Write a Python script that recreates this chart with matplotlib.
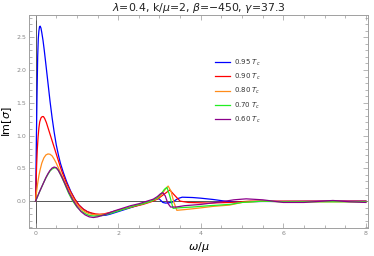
import numpy as np
import matplotlib
matplotlib.use("Agg")
import matplotlib.pyplot as plt
from matplotlib.ticker import MultipleLocator

# 0.95 Tc
x_95 = [0, 0.01, 0.02, 0.035, 0.05, 0.065, 0.08, 0.095, 0.11, 0.13, 0.15, 0.18, 0.21, 0.25, 0.3, 0.35, 0.4,
        0.45, 0.5, 0.55, 0.6, 0.67, 0.75, 0.85, 0.95, 1.05, 1.15, 1.25, 1.4, 1.5, 1.6, 1.7, 1.8, 2.0, 2.2,
        2.4, 2.6, 2.8, 2.95, 3.0, 3.08, 3.15, 3.3, 3.45, 3.55, 3.8, 4.0, 4.3, 4.7, 5.0, 5.5, 6.0, 7.0, 8.0]
y_95 = [0, 0.5, 1.0, 1.65, 2.2, 2.48, 2.6, 2.66, 2.67, 2.64, 2.57, 2.45, 2.3, 2.08, 1.8, 1.52, 1.27,
        1.05, 0.86, 0.71, 0.58, 0.44, 0.3, 0.15, 0.03, -0.06, -0.12, -0.16, -0.2, -0.215, -0.22, -0.215, -0.2, -0.16, -0.12,
        -0.08, -0.04, 0.0, 0.04, 0.03, -0.02, -0.03, -0.02, 0.04, 0.06, 0.055, 0.045, 0.025, -0.01, -0.01, -0.005, -0.005, 0.0, 0.0]

# 0.90 Tc
x_90 = [0, 0.01, 0.025, 0.04, 0.06, 0.08, 0.1, 0.13, 0.16, 0.19, 0.22, 0.26, 0.3, 0.35, 0.4, 0.45, 0.5,
        0.55, 0.6, 0.65, 0.7, 0.75, 0.85, 0.95, 1.05, 1.15, 1.25, 1.35, 1.45, 1.55, 1.65, 1.75, 2.0, 2.2,
        2.4, 2.6, 2.8, 2.95, 3.1, 3.25, 3.35, 3.5, 3.7, 4.2, 4.7, 5.2, 6.0, 7.0, 8.0]
y_90 = [0, 0.25, 0.55, 0.78, 0.98, 1.12, 1.21, 1.27, 1.29, 1.29, 1.26, 1.2, 1.12, 1.02, 0.92, 0.82, 0.72,
        0.62, 0.52, 0.43, 0.35, 0.27, 0.14, 0.03, -0.06, -0.12, -0.16, -0.18, -0.195, -0.2, -0.195, -0.18, -0.14, -0.11,
        -0.08, -0.05, -0.01, 0.03, 0.1, 0.17, 0.1, 0.0, -0.02, -0.03, -0.02, 0.0, 0.0, 0.0, 0.0]

# 0.80 Tc
x_80 = [0, 0.025, 0.05, 0.08, 0.11, 0.15, 0.2, 0.25, 0.3, 0.35, 0.4, 0.45, 0.5, 0.55, 0.6, 0.7, 0.8, 0.9,
        1.0, 1.1, 1.2, 1.3, 1.4, 1.5, 1.6, 1.7, 1.8, 2.0, 2.2, 2.4, 2.6, 2.8, 2.95, 3.05, 3.14, 3.21,
        3.28, 3.35, 3.42, 3.6, 3.9, 4.3, 4.7, 5.0, 5.5, 6.0, 7.0, 8.0]
y_80 = [0, 0.15, 0.27, 0.39, 0.48, 0.58, 0.66, 0.705, 0.72, 0.715, 0.69, 0.64, 0.58, 0.51, 0.44, 0.3, 0.17, 0.05,
        -0.05, -0.12, -0.165, -0.195, -0.205, -0.21, -0.205, -0.195, -0.18, -0.14, -0.11, -0.07, -0.04, 0.0, 0.04, 0.1, 0.18, 0.23,
        0.15, -0.02, -0.14, -0.13, -0.11, -0.08, -0.06, -0.02, 0.0, -0.01, -0.01, -0.01]

# 0.70 Tc
x_70 = [0, 0.05, 0.1, 0.15, 0.2, 0.25, 0.3, 0.35, 0.4, 0.46, 0.5, 0.55, 0.6, 0.65, 0.7, 0.8, 0.9, 1.0,
        1.1, 1.2, 1.3, 1.45, 1.6, 1.8, 2.0, 2.2, 2.4, 2.6, 2.8, 2.95, 3.05, 3.12, 3.18, 3.24, 3.33, 3.5,
        3.8, 4.2, 4.7, 5.0, 5.5, 6.0, 7.0, 8.0]
y_70 = [0, 0.075, 0.15, 0.22, 0.29, 0.355, 0.41, 0.46, 0.49, 0.508, 0.505, 0.47, 0.41, 0.34, 0.27, 0.12, 0.0, -0.09,
        -0.15, -0.19, -0.22, -0.23, -0.22, -0.19, -0.15, -0.11, -0.07, -0.04, 0.0, 0.05, 0.12, 0.18, 0.21, 0.1, -0.11, -0.1,
        -0.09, -0.07, -0.05, -0.02, 0.0, -0.01, -0.01, -0.01]

# 0.60 Tc
x_60 = [0, 0.05, 0.1, 0.15, 0.2, 0.25, 0.3, 0.35, 0.4, 0.45, 0.5, 0.55, 0.6, 0.65, 0.7, 0.8, 0.9, 1.0,
        1.1, 1.2, 1.3, 1.4, 1.5, 1.7, 1.9, 2.1, 2.3, 2.5, 2.7, 2.85, 2.95, 3.02, 3.08, 3.14, 3.2, 3.27,
        3.4, 3.6, 4.0, 4.5, 4.8, 5.1, 5.5, 6.0, 6.5, 7.2, 7.6, 8.0]
y_60 = [0, 0.075, 0.15, 0.22, 0.29, 0.36, 0.42, 0.47, 0.505, 0.52, 0.51, 0.47, 0.41, 0.35, 0.28, 0.14, 0.02, -0.08,
        -0.16, -0.21, -0.24, -0.25, -0.24, -0.2, -0.15, -0.11, -0.07, -0.04, 0.0, 0.03, 0.07, 0.11, 0.13, 0.08, -0.03, -0.09,
        -0.09, -0.07, -0.05, -0.01, 0.02, 0.035, 0.02, -0.02, -0.02, 0.01, -0.01, -0.02]

series = [(x_95, y_95, "#0000ff", "0.95 $T_c$"),
          (x_90, y_90, "#ff0000", "0.90 $T_c$"),
          (x_80, y_80, "#ff8c1a", "0.80 $T_c$"),
          (x_70, y_70, "#22ee22", "0.70 $T_c$"),
          (x_60, y_60, "#8b008b", "0.60 $T_c$")]

fig = plt.figure(figsize=(3.74, 2.56), dpi=100)
ax = fig.add_axes([29/374, 1-228/256, (368-29)/374, (228-15)/256])

for xs, ys, c, lab in series:
    ax.plot(xs, ys, color=c, lw=0.9, label=lab)

ax.axhline(0, color="#555555", lw=0.7, zorder=0)
ax.axvline(0, color="#555555", lw=0.7, zorder=0)

ax.set_xlim(-0.16, 8.05)
ax.set_ylim(-0.41, 2.84)
ax.xaxis.set_minor_locator(MultipleLocator(0.5))
ax.yaxis.set_minor_locator(MultipleLocator(0.1))
ax.set_xticks([0, 2, 4, 6, 8])
ax.set_xticklabels(["0", "2", "4", "6", "8"])
ax.set_yticks([0, 0.5, 1.0, 1.5, 2.0, 2.5])
ax.set_yticklabels(["0.0", "0.5", "1.0", "1.5", "2.0", "2.5"])
ax.tick_params(which="both", direction="in", top=True, right=True, color="#999999",
               labelcolor="#888888", labelsize=4.5, width=0.5, pad=2)
ax.tick_params(which="major", length=3.5)
ax.tick_params(which="minor", length=2)
for s in ax.spines.values():
    s.set_color("#a0a0a0")
    s.set_linewidth(0.7)

ax.set_title(r"$\lambda$=0.4, k/$\mu$=2, $\beta$=−450, $\gamma$=37.3", fontsize=7.8, pad=2, color="#222222")
ax.set_xlabel(r"$\omega/\mu$", fontsize=8, labelpad=3)
ax.set_ylabel(r"Im[$\sigma$]", fontsize=8, labelpad=2)

ax.legend(loc="upper left", bbox_to_anchor=(0.53, 0.83), frameon=False, fontsize=5,
          handlelength=2.2, labelspacing=0.6, handletextpad=0.6, labelcolor="#333333")

fig.savefig("out.png", dpi=100)
